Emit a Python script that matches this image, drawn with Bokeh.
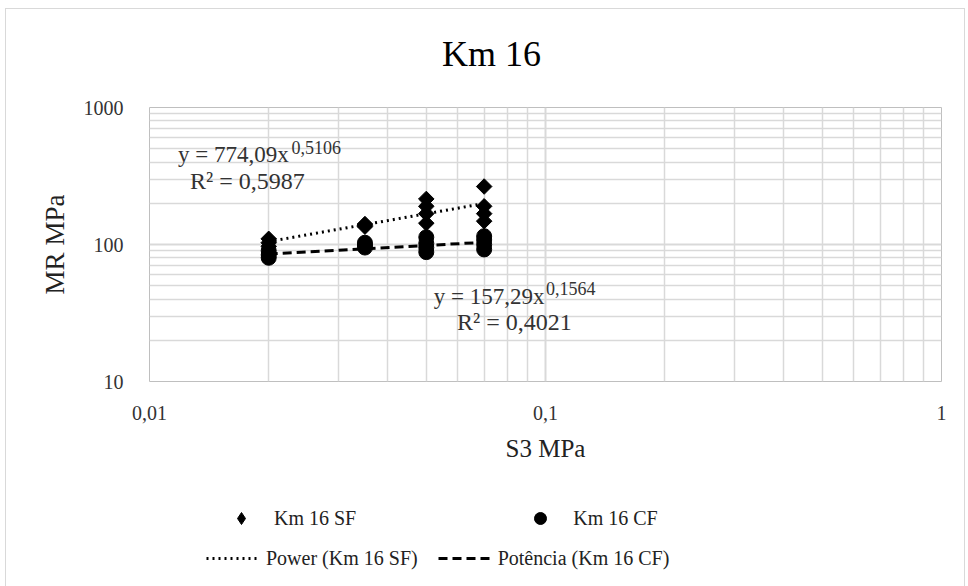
from bokeh.plotting import figure
from bokeh.layouts import column
from bokeh.models import FixedTicker, Label, Legend, LegendItem, Range1d
from bokeh.embed import file_html
from bokeh.resources import INLINE
import numpy as np

# ---- data ----
sf_s3 = [0.02, 0.02, 0.02, 0.035, 0.035, 0.035, 0.05, 0.05, 0.05, 0.05, 0.07, 0.07, 0.07, 0.07]
sf_mr = [110, 103, 97, 141, 138, 135, 215, 190, 168, 143, 265, 190, 168, 148]
cf_s3 = [0.02, 0.02, 0.02, 0.035, 0.035, 0.035, 0.05, 0.05, 0.05, 0.05, 0.07, 0.07, 0.07, 0.07]
cf_mr = [90, 84, 80, 103, 99, 95, 113, 102, 95, 88, 115, 108, 100, 92]

# power trend coefficients y = a * x^b
sf_fit = (774.09, 0.5106)
cf_fit = (157.29, 0.1564)
sf_eq = ("y = 774,09x", "0,5106", "R² = 0,5987")
cf_eq = ("y = 157,29x", "0,1564", "R² = 0,4021")

x_ticks = [0.01, 0.1, 1]
x_tick_labels = ["0,01", "0,1", "1"]
y_ticks = [10, 100, 1000]
y_tick_labels = ["10", "100", "1000"]

title = "Km 16"
x_label = "S3 MPa"
y_label = "MR MPa"
legend_labels = ["Km 16 SF", "Km 16 CF", "Power (Km 16 SF)", "Potência (Km 16 CF)"]

SERIF = "Liberation Serif"
GRID = "#d9d9d9"
W = 958

def blank_panel(height):
    f = figure(width=W, height=height, x_range=Range1d(0, 1), y_range=Range1d(0, 1),
               output_backend="svg", toolbar_location=None,
               min_border=0, min_border_left=0, min_border_right=0,
               min_border_top=0, min_border_bottom=0)
    f.axis.visible = False
    f.grid.visible = False
    f.outline_line_color = None
    return f

# ---- title panel ----
tf = blank_panel(80)
tf.add_layout(Label(x=0.4318, y=0.45, text=title, text_align="center",
                    text_baseline="alphabetic", text_font=SERIF,
                    text_font_size="36px", text_color="#000000"))

# ---- main plot ----
p = figure(width=W, height=392, x_axis_type="log", y_axis_type="log",
           x_range=(0.01, 1), y_range=(10, 1000),
           output_backend="svg", toolbar_location=None,
           min_border_left=143, min_border_right=23, min_border_top=18, min_border_bottom=100)

p.outline_line_color = "#bfbfbf"

x_minor = [k * 10.0 ** e for e in (-2, -1) for k in range(2, 10)]
y_minor = [k * 10.0 ** e for e in (1, 2) for k in range(2, 10)]
p.xaxis.ticker = FixedTicker(ticks=x_ticks, minor_ticks=x_minor)
p.yaxis.ticker = FixedTicker(ticks=y_ticks, minor_ticks=y_minor)
p.xaxis.major_label_overrides = {t: l for t, l in zip(x_ticks, x_tick_labels)}
p.yaxis.major_label_overrides = {t: l for t, l in zip(y_ticks, y_tick_labels)}

for ax in (p.xaxis, p.yaxis):
    ax.axis_line_color = None
    ax.major_tick_line_color = None
    ax.minor_tick_line_color = None
    ax.major_label_text_font = SERIF
    ax.major_label_text_font_size = "20px"
    ax.major_label_text_color = "#333333"
    ax.axis_label_text_font = SERIF
    ax.axis_label_text_font_size = "25px"
    ax.axis_label_text_font_style = "normal"
    ax.axis_label_text_color = "#222222"

p.xaxis.axis_label = x_label
p.yaxis.axis_label = y_label
p.yaxis.axis_label_text_font_size = "27px"
p.xaxis.major_label_standoff = 18
p.yaxis.major_label_standoff = 20
p.xaxis.axis_label_standoff = 12
p.yaxis.axis_label_standoff = 11

for g in (p.xgrid, p.ygrid):
    g.grid_line_color = GRID
    g.grid_line_width = 2
    g.minor_grid_line_color = GRID
    g.minor_grid_line_width = 1.5

# trend lines
def trend(xs, fit):
    xx = np.array([min(xs), max(xs)])
    return xx, fit[0] * xx ** fit[1]

SF_LINE = dict(line_color="black", line_width=3, line_dash="2 4")
CF_LINE = dict(line_color="black", line_width=3, line_dash="9 5")
SF_MARK = dict(marker="square", angle=np.pi / 4, size=11, color="black")
CF_MARK = dict(marker="circle", size=15, color="black")

sx, sy = trend(sf_s3, sf_fit)
cx, cy = trend(cf_s3, cf_fit)
p.line(sx, sy, **SF_LINE)
p.line(cx, cy, **CF_LINE)
p.scatter(sf_s3, sf_mr, **SF_MARK)
p.scatter(cf_s3, cf_mr, **CF_MARK)

# equations
def eq_labels(eq, x0, y0, xs, ys, xr, yr):
    kw = dict(text_font=SERIF, text_baseline="alphabetic", text_color="#333333")
    p.add_layout(Label(x=x0, y=y0, text=eq[0], text_font_size="23px", **kw))
    p.add_layout(Label(x=xs, y=ys, text=eq[1], text_font_size="18px", **kw))
    p.add_layout(Label(x=xr, y=yr, text=eq[2], text_font_size="24px", **kw))

eq_labels(sf_eq, 0.0118, 452, 0.02284, 507, 0.01265, 293)
eq_labels(cf_eq, 0.0522, 41.9, 0.1003, 47.8, 0.0598, 27.3)

# ---- legend panel; its glyphs reuse the series data, which falls outside
# this panel's 0..1 ranges and so stays hidden ----
lf = blank_panel(106)
k_sf = lf.scatter(sf_s3, sf_mr, marker="diamond", size=15, color="black")
k_cf = lf.scatter(cf_s3, cf_mr, **CF_MARK)
k_sfl = lf.line(sx, sy, **SF_LINE)
k_cfl = lf.line(cx, cy, **CF_LINE)

leg1 = Legend(items=[LegendItem(label=legend_labels[0], renderers=[k_sf]),
                     LegendItem(label=legend_labels[1], renderers=[k_cf])],
              orientation="horizontal", location=(77, 54), spacing=169,
              glyph_width=30, glyph_height=30, label_standoff=18, padding=0, margin=0)
leg2 = Legend(items=[LegendItem(label=legend_labels[2], renderers=[k_sfl]),
                     LegendItem(label=legend_labels[3], renderers=[k_cfl])],
              orientation="horizontal", location=(57, 14), spacing=20,
              glyph_width=52, glyph_height=30, label_standoff=8, padding=0, margin=0)
for lg in (leg1, leg2):
    lg.border_line_color = None
    lg.background_fill_alpha = 0
    lg.label_text_font = SERIF
    lg.label_text_font_size = "20px"
    lg.label_text_color = "#222222"
    lf.add_layout(lg, "center")

layout = column(tf, p, lf, spacing=0)
layout.styles = {"border": "1px solid #d9d9d9", "margin-left": "5px", "margin-top": "8px"}

open("out.html", "w").write(file_html(layout, INLINE))
